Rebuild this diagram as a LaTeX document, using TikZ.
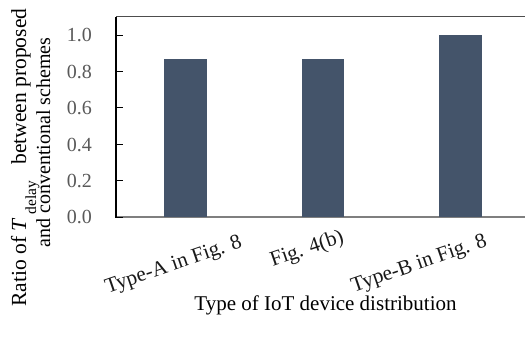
\documentclass[tikz,border=0pt]{standalone}
\usepackage{fontspec}
\setmainfont{Liberation Serif}
\definecolor{barfill}{HTML}{44546A}
\definecolor{ticktext}{HTML}{595959}
\definecolor{framegray}{HTML}{7F7F7F}
\definecolor{topgray}{HTML}{4D4D4D}
\tikzset{
  bar/.style={fill=barfill, draw=none},
  ticklabel/.style={text=ticktext, font=\fontsize{20}{24}\selectfont, anchor=base east, inner sep=0pt},
  catlabel/.style={text=black!90, font=\fontsize{21.2}{24}\selectfont, anchor=base east, inner sep=0pt, rotate=19},
  axistitle/.style={text=black, font=\fontsize{21}{24}\selectfont, inner sep=0pt, anchor=base},
  tickmark/.style={black, line width=1pt},
}
\begin{document}
\begin{tikzpicture}[x=1pt, y=-1pt]
  \useasboundingbox (0,0) rectangle (525,338);
  % plot frame
  \draw[topgray, line width=1.3pt] (116,16.5) -- (525,16.5);
  \draw[framegray, line width=1.3pt] (116,217) -- (525,217);
  \draw[black, line width=1.2pt] (116,16.5) -- (116,217.6);
  % bars
  \fill[bar] (164,59.3) rectangle (206.7,217);
  \fill[bar] (301.7,59.3) rectangle (344.3,217);
  \fill[bar] (439,35) rectangle (481.7,217);
  % y ticks and labels
  \foreach \v/\lab [count=\i] in {0/0.0, 1/0.2, 2/0.4, 3/0.6, 4/0.8, 5/1.0} {
    \draw[tickmark] (116,{217-36.4*\v}) -- (122.5,{217-36.4*\v});
    \node[ticklabel] (yl\i) at (92,{217-36.4*\v+6.8}) {\lab};
  }
  % category labels
  \node[catlabel] (catA) at (243,247) {Type-A in Fig. 8};
  \node[catlabel] (catF) at (345,242) {Fig. 4(b)};
  \node[catlabel] (catB) at (488,246) {Type-B in Fig. 8};
  % axis titles
  \node[axistitle] (xtitle) at (325.5,310) {Type of IoT device distribution};
  \node[axistitle, rotate=90, font=\fontsize{21.5}{24}\selectfont] (ytitleA) at (26,157.5)
    {Ratio of \textit{T}\,{\fontsize{15.5}{16}\selectfont\raisebox{-10pt}{delay}}\hspace{11pt} between proposed};
  \node[axistitle, rotate=90, font=\fontsize{20}{24}\selectfont] (ytitleB) at (50,142.5) {and conventional schemes};
\end{tikzpicture}
\end{document}
